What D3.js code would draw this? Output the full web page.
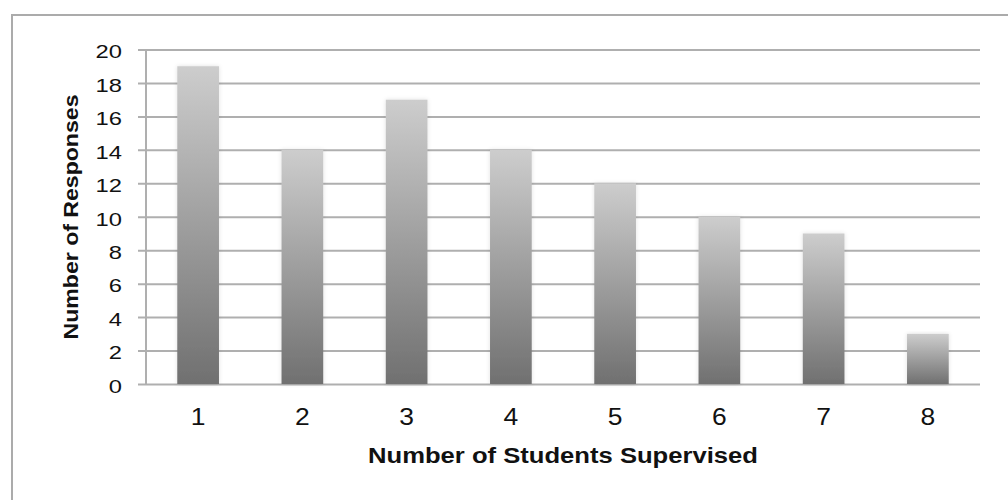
<!DOCTYPE html>
<html>
<head>
<meta charset="utf-8">
<script src="https://cdn.jsdelivr.net/npm/d3@7"></script>
<style>
  html, body { margin: 0; padding: 0; background: #ffffff; }
  svg { display: block; }
  text { font-family: "Liberation Sans", Arial, sans-serif; fill: #111; }
</style>
</head>
<body>
<svg id="chart" width="1008" height="500"></svg>
<script>
// Survey responses by number of students supervised
const categories = ["1", "2", "3", "4", "5", "6", "7", "8"];
const responses = [19, 14, 17, 14, 12, 10, 9, 3];
const yTicks = [0, 2, 4, 6, 8, 10, 12, 14, 16, 18, 20];
const xTitle = "Number of Students Supervised";
const yTitle = "Number of Responses";

const svg = d3.select("#chart");
const W = 1008, H = 500;
const plot = { left: 146, right: 980, top: 49.5, bottom: 384 };

// outer frame (runs off the right and bottom edges)
svg.append("rect")
  .attr("x", 12).attr("y", 15)
  .attr("width", W + 10).attr("height", H + 10)
  .attr("fill", "none").attr("stroke", "#ababab").attr("stroke-width", 2);

const x = d3.scaleBand().domain(categories)
  .range([plot.left, plot.right]).paddingInner(0.6).paddingOuter(0.3);
const y = d3.scaleLinear().domain([0, 20]).range([plot.bottom, plot.top]);

const defs = svg.append("defs");
const grad = defs.append("linearGradient").attr("id", "barFill")
  .attr("x1", 0).attr("y1", 0).attr("x2", 0).attr("y2", 1);
grad.append("stop").attr("offset", "0%").attr("stop-color", "#cdcdcd");
grad.append("stop").attr("offset", "100%").attr("stop-color", "#707070");

const glow = defs.append("filter").attr("id", "glow")
  .attr("x", "-20%").attr("y", "-5%").attr("width", "140%").attr("height", "110%");
glow.append("feGaussianBlur").attr("in", "SourceAlpha").attr("stdDeviation", 2).attr("result", "b");
glow.append("feFlood").attr("flood-color", "#000").attr("flood-opacity", 0.12);
glow.append("feComposite").attr("in2", "b").attr("operator", "in").attr("result", "s");
const merge = glow.append("feMerge");
merge.append("feMergeNode").attr("in", "s");
merge.append("feMergeNode").attr("in", "SourceGraphic");

// horizontal gridlines with left tick stubs
const yAxis = d3.axisLeft(y).tickValues(yTicks)
  .tickSize(-(plot.right - plot.left)).tickSizeOuter(0).tickPadding(0).tickFormat("");
const yg = svg.append("g").attr("transform", `translate(${plot.left},0)`).call(yAxis);
yg.select(".domain").remove();
yg.selectAll(".tick line")
  .attr("x1", -8)
  .attr("stroke", "#afafaf").attr("stroke-width", 2);

// vertical axis line
svg.append("line")
  .attr("x1", plot.left).attr("x2", plot.left)
  .attr("y1", plot.top).attr("y2", plot.bottom + 1)
  .attr("stroke", "#afafaf").attr("stroke-width", 2);

// y tick labels
svg.append("g").selectAll("text").data(yTicks).join("text")
  .attr("transform", d => `translate(122,${y(d) + 2}) scale(1.25,1)`)
  .attr("text-anchor", "end").attr("dy", "0.36em")
  .style("font-size", "19px")
  .text(d => d);

// bars
svg.append("g").selectAll("rect").data(responses).join("rect")
  .attr("x", (d, i) => x(categories[i]))
  .attr("width", x.bandwidth())
  .attr("y", d => y(d))
  .attr("height", d => y(0) - y(d))
  .attr("fill", "url(#barFill)")
  .attr("filter", "url(#glow)");

// x tick labels
svg.append("g").selectAll("text").data(categories).join("text")
  .attr("transform", d => `translate(${x(d) + x.bandwidth() / 2},417) scale(1.15,1)`)
  .attr("text-anchor", "middle").attr("dy", "0.36em")
  .style("font-size", "23px")
  .text(d => d);

// axis titles
svg.append("text")
  .attr("x", 563).attr("y", 463)
  .attr("text-anchor", "middle")
  .attr("textLength", 390).attr("lengthAdjust", "spacingAndGlyphs")
  .style("font-size", "22px").style("font-weight", "bold")
  .text(xTitle);

svg.append("text")
  .attr("transform", "translate(78,217) rotate(-90)")
  .attr("text-anchor", "middle")
  .attr("textLength", 245).attr("lengthAdjust", "spacingAndGlyphs")
  .style("font-size", "21px").style("font-weight", "bold")
  .text(yTitle);
</script>
</body>
</html>
